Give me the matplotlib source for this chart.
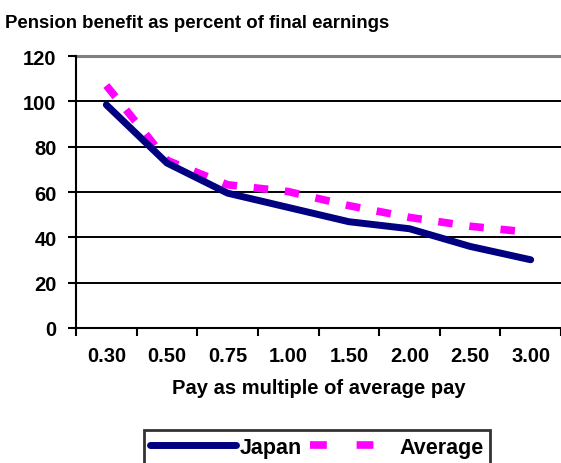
import matplotlib
matplotlib.use("Agg")
import matplotlib.pyplot as plt
from matplotlib.lines import Line2D
import numpy as np

plt.rcParams['font.family'] = ['Liberation Sans', 'DejaVu Sans']
plt.rcParams['font.weight'] = 'bold'

# pay as multiple of average pay
categories = ["0.30", "0.50", "0.75", "1.00", "1.50", "2.00", "2.50", "3.00"]
japan = [98.5, 72.8, 59.5, 53.2, 46.9, 43.8, 36.0, 30.1]
average = [107.0, 74.0, 63.2, 60.2, 54.0, 48.8, 44.9, 42.2]

fig = plt.figure(figsize=(5.61, 4.64), dpi=100)
ax = fig.add_axes([0.1355, 0.291, 0.8645, 0.586])

x = np.arange(len(categories))
ax.plot(x, japan, color='#000080', lw=5, solid_capstyle='round', zorder=3)
ax.plot(x, average, color='#FF00FF', lw=5.5, dashes=(1.9, 2.2), dash_capstyle='butt', zorder=2)

ax.set_ylim(0, 120)
ax.set_yticks(range(0, 121, 20))
ax.set_xlim(-0.5, len(categories) - 0.5)
ax.set_xticks(x)
ax.set_xticklabels(categories)
ax.set_xticks(np.arange(-0.5, len(categories)), minor=True)
ax.tick_params(axis='x', which='major', length=0, pad=13, labelsize=14.5)
ax.tick_params(axis='x', which='minor', length=6, width=1.5, direction='out')
ax.tick_params(axis='y', length=6, width=1.5, direction='out', labelsize=14.5, pad=8)

for v in range(20, 101, 20):
    ax.axhline(v, color='black', lw=1.4, zorder=1)
ax.axhline(120, color='#808080', lw=2.2, zorder=1, clip_on=False)

ax.spines['top'].set_visible(False)
ax.spines['right'].set_visible(False)
ax.spines['left'].set_linewidth(1.5)
ax.spines['bottom'].set_linewidth(1.5)

ax.set_xlabel("Pay as multiple of average pay", fontsize=14.5, fontweight='bold', labelpad=9)
fig.text(0.009, 0.950, "Pension benefit as percent of final earnings", fontsize=13.4,
         fontweight='bold', ha='left', va='center')

handles = [Line2D([], [], color='#000080', lw=5, solid_capstyle='round'),
           Line2D([], [], color='#FF00FF', lw=5.5, dashes=(2.2, 3.9), dash_capstyle='butt')]
leg = fig.legend(handles, ["Japan", "Average"], loc='upper center',
                 bbox_to_anchor=(0.565, 0.071), ncol=2,
                 frameon=True, fancybox=False, handlelength=4.0, columnspacing=0.4,
                 handletextpad=0.15, borderpad=0.3, borderaxespad=0,
                 prop={'size': 15.5, 'weight': 'bold'})
leg.get_frame().set_edgecolor('black')
leg.get_frame().set_linewidth(2)

fig.savefig("out.png", dpi=100)
